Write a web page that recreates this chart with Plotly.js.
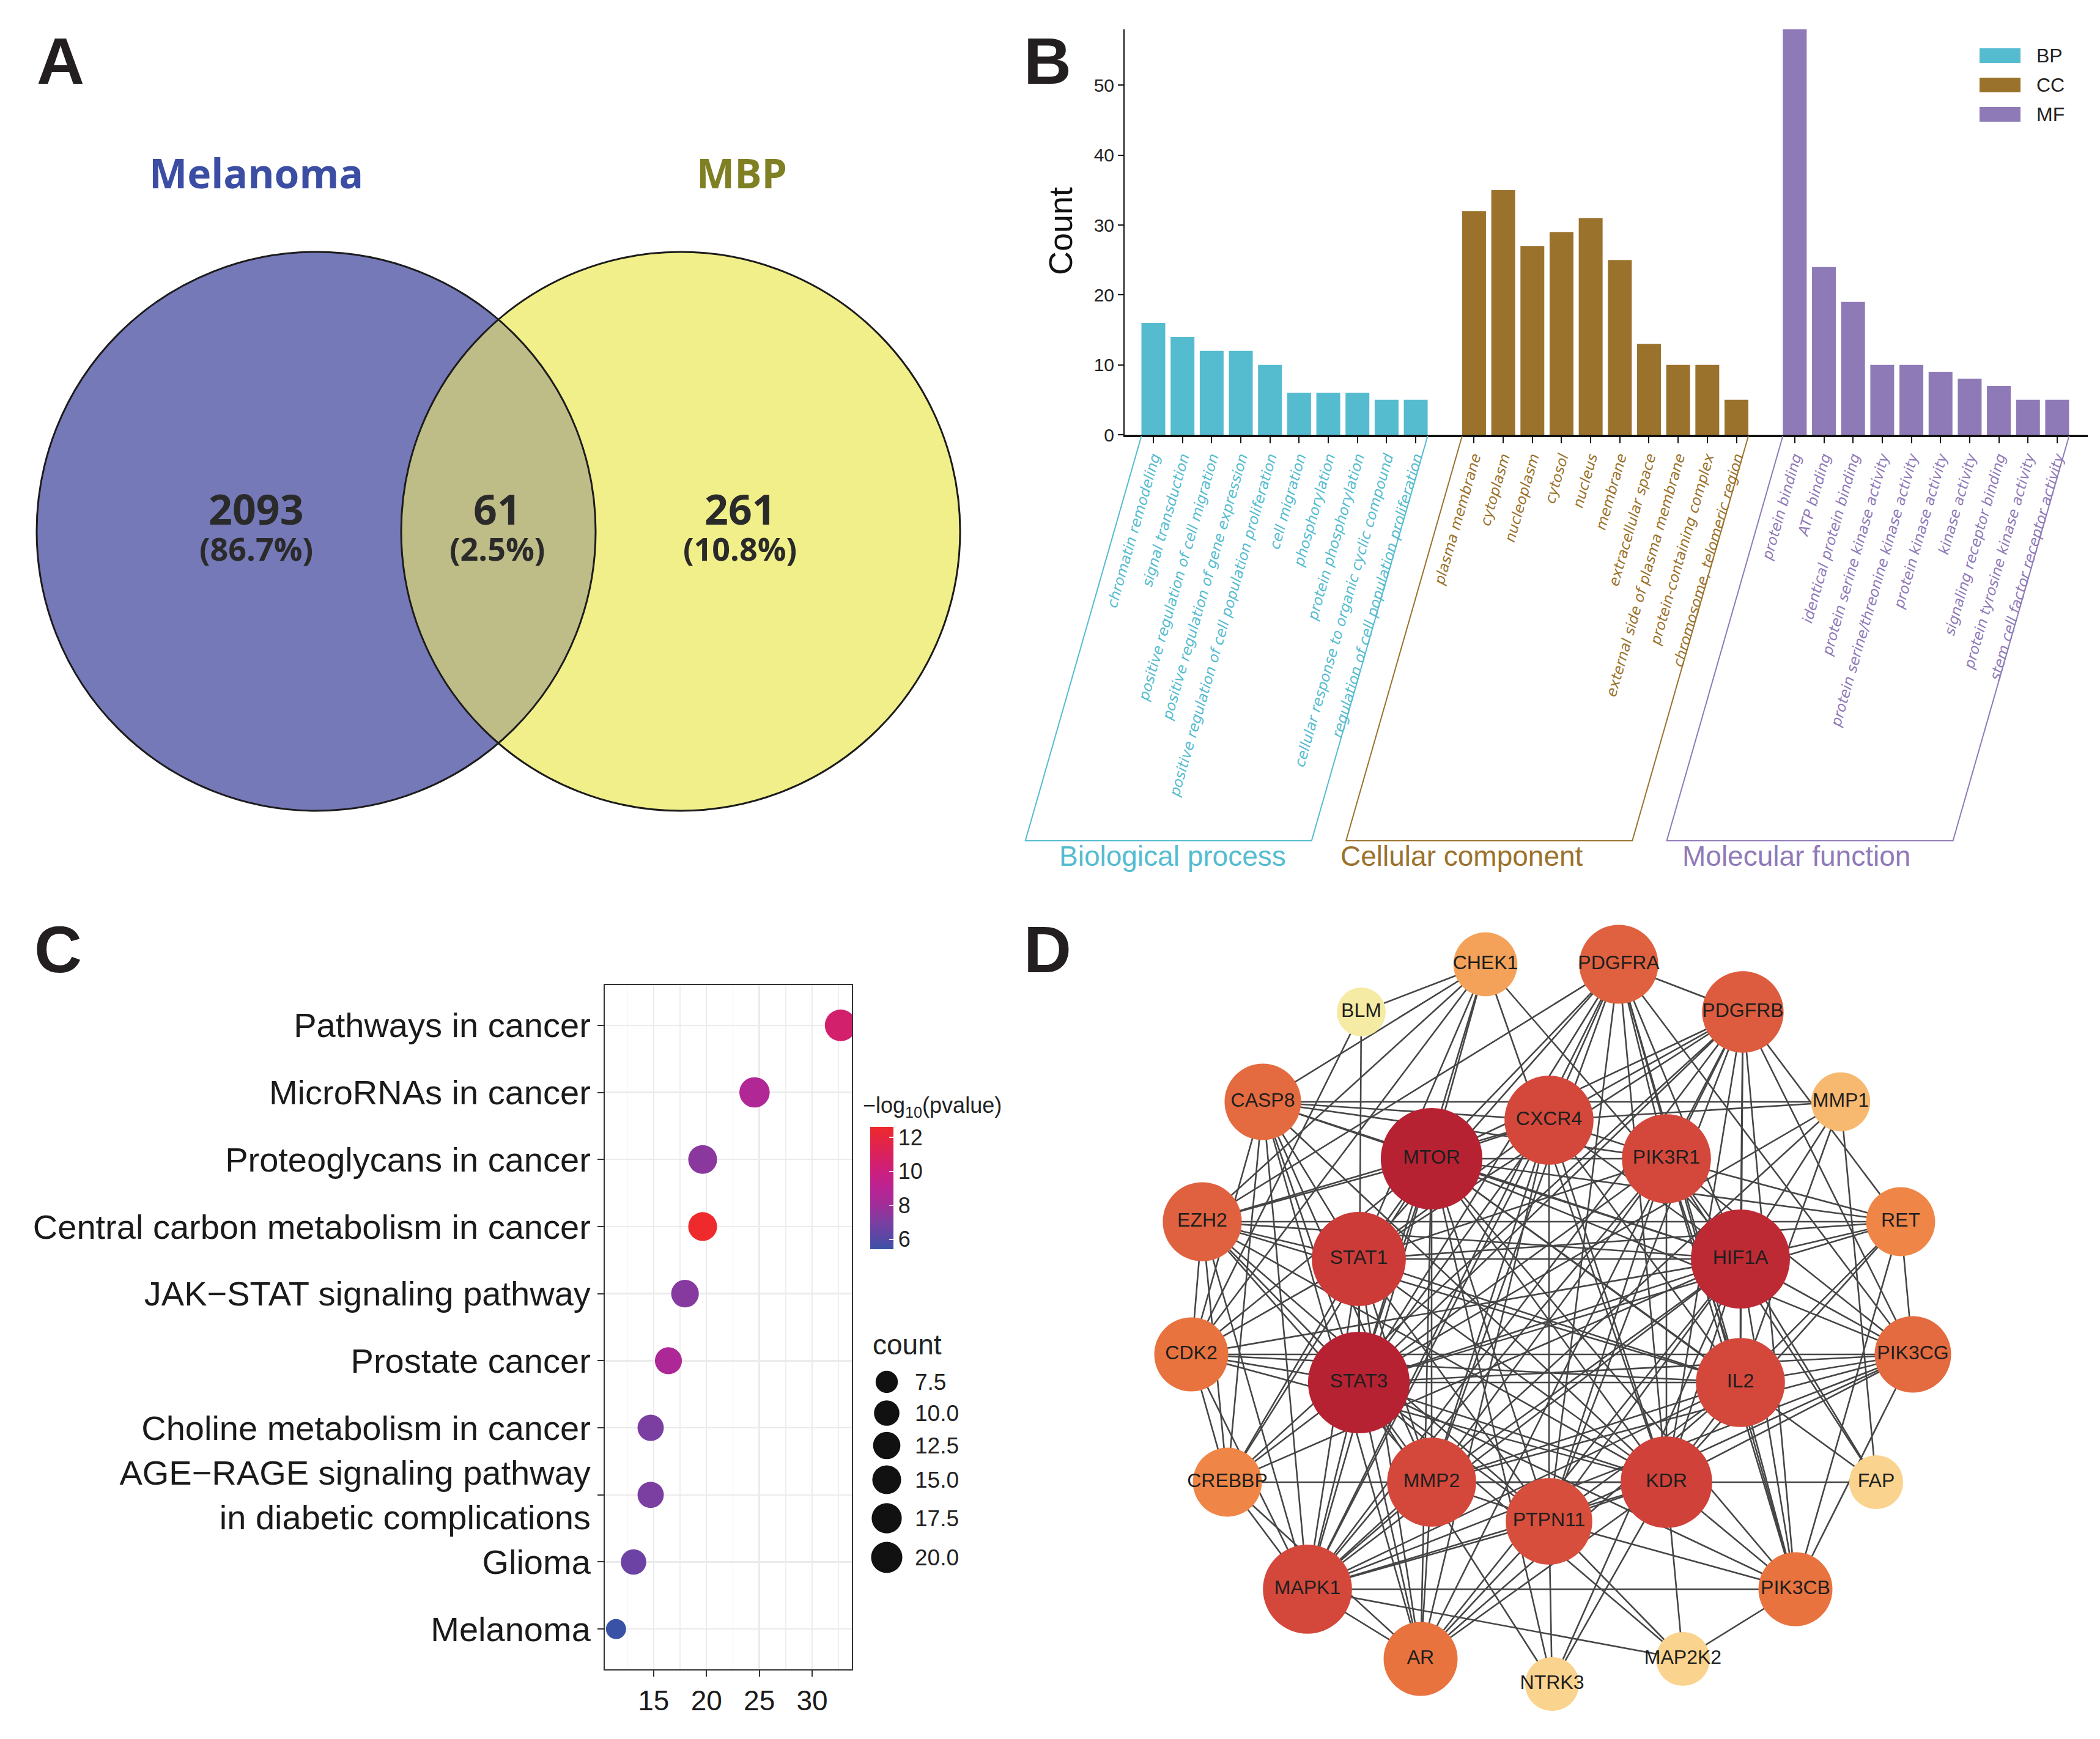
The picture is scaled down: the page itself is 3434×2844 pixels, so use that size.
<!DOCTYPE html>
<html><head><meta charset="utf-8">
<script src="https://cdn.plot.ly/plotly-3.0.1.min.js"></script>
<style>html,body{margin:0;padding:0;background:#fff}#chart{width:3434px;height:2844px}</style>
</head><body><div id="chart"></div>
<script>
const W = 3434, H = 2844;

// ---------------- Panel A data (Venn) ----------------
const vennSets = ['Melanoma', 'MBP'];
const vennCounts = [2093, 61, 261];
const vennPercents = ['86.7%', '2.5%', '10.8%'];

// ---------------- Panel B data (GO) ----------------
const bpTerms = ['chromatin remodeling', 'signal transduction', 'positive regulation of cell migration',
  'positive regulation of gene expression', 'positive regulation of cell population proliferation',
  'cell migration', 'phosphorylation', 'protein phosphorylation',
  'cellular response to organic cyclic compound', 'regulation of cell population proliferation'];
const bpCounts = [16, 14, 12, 12, 10, 6, 6, 6, 5, 5];
const ccTerms = ['plasma membrane', 'cytoplasm', 'nucleoplasm', 'cytosol', 'nucleus', 'membrane',
  'extracellular space', 'external side of plasma membrane', 'protein-containing complex',
  'chromosome, telomeric region'];
const ccCounts = [32, 35, 27, 29, 31, 25, 13, 10, 10, 5];
const mfTerms = ['protein binding', 'ATP binding', 'identical protein binding', 'protein serine kinase activity',
  'protein serine/threonine kinase activity', 'protein kinase activity', 'kinase activity',
  'signaling receptor binding', 'protein tyrosine kinase activity', 'stem cell factor receptor activity'];
const mfCounts = [58, 24, 19, 10, 10, 9, 8, 7, 5, 5];
const goGroups = ['BP', 'CC', 'MF'];
const goGroupNames = ['Biological process', 'Cellular component', 'Molecular function'];
const countTicks = [0, 10, 20, 30, 40, 50];

// ---------------- Panel C data (KEGG) ----------------
const keggTerms = ['Pathways in cancer', 'MicroRNAs in cancer', 'Proteoglycans in cancer',
  'Central carbon metabolism in cancer', 'JAK\u2212STAT signaling pathway', 'Prostate cancer',
  'Choline metabolism in cancer', 'AGE\u2212RAGE signaling pathway<br>in diabetic complications',
  'Glioma', 'Melanoma'];
const keggX = [32.7, 24.55, 19.64, 19.64, 17.97, 16.4, 14.72, 14.72, 13.1, 11.44];
const keggCount = [21, 18, 15, 15, 13, 12, 11, 11, 10, 7];
const keggLogP = [10.5, 8.6, 7.4, 12.62, 7.3, 8.5, 7.0, 7.0, 6.6, 5.42];
const keggXTicks = [15, 20, 25, 30];
const pTicks = [6, 8, 10, 12];
const countBreaks = [7.5, 10, 12.5, 15, 17.5, 20];
const countBreakLabels = ['7.5', '10.0', '12.5', '15.0', '17.5', '20.0'];

// ---------------- Panel D data (PPI network) ----------------
const genes = ['CHEK1','PDGFRA','BLM','PDGFRB','CASP8','MMP1','CXCR4','MTOR','PIK3R1','EZH2','RET','STAT1',
  'HIF1A','CDK2','PIK3CG','STAT3','IL2','CREBBP','MMP2','KDR','FAP','PTPN11','MAPK1','PIK3CB','AR','MAP2K2','NTRK3'];
const nodeDegree = [9,15,3,16,14,7,19,24,19,15,11,21,23,13,14,24,19,11,19,20,5,18,19,13,13,5,5];
// layout coordinates of the network nodes (pixels)
const nodeX = [2429,2647,2226,2850,2065,3010,2533,2341,2725,1966,3108,2222,2846,1948,3128,2222,2846,2007,2341,2725,3068,2533,2138,2936,2323,2752,2538];
const nodeY = [1577,1577,1655,1655,1802,1802,1832,1895,1895,1998,1998,2059,2059,2215,2215,2261,2261,2424,2424,2424,2424,2488,2599,2599,2713,2713,2754];
const edges = [
  ['BLM','CHEK1'],['BLM','CDK2'],['BLM','STAT3'],
  ['CHEK1','CASP8'],['CHEK1','EZH2'],['CHEK1','CDK2'],['CHEK1','MTOR'],['CHEK1','STAT1'],['CHEK1','STAT3'],['CHEK1','HIF1A'],['CHEK1','KDR'],
  ['PDGFRA','PDGFRB'],['PDGFRA','MTOR'],['PDGFRA','CXCR4'],['PDGFRA','PIK3R1'],['PDGFRA','HIF1A'],['PDGFRA','STAT1'],['PDGFRA','STAT3'],['PDGFRA','IL2'],['PDGFRA','KDR'],['PDGFRA','MMP2'],['PDGFRA','PTPN11'],['PDGFRA','MAPK1'],['PDGFRA','PIK3CB'],['PDGFRA','PIK3CG'],['PDGFRA','EZH2'],
  ['PDGFRB','MTOR'],['PDGFRB','CXCR4'],['PDGFRB','PIK3R1'],['PDGFRB','HIF1A'],['PDGFRB','STAT1'],['PDGFRB','STAT3'],['PDGFRB','IL2'],['PDGFRB','KDR'],['PDGFRB','PTPN11'],['PDGFRB','MAPK1'],['PDGFRB','PIK3CB'],['PDGFRB','PIK3CG'],['PDGFRB','RET'],['PDGFRB','CREBBP'],['PDGFRB','AR'],
  ['CASP8','MMP1'],['CASP8','CXCR4'],['CASP8','MTOR'],['CASP8','PIK3R1'],['CASP8','HIF1A'],['CASP8','STAT1'],['CASP8','STAT3'],['CASP8','CDK2'],['CASP8','CREBBP'],['CASP8','MAPK1'],['CASP8','AR'],['CASP8','MMP2'],['CASP8','KDR'],
  ['MMP1','CXCR4'],['MMP1','HIF1A'],['MMP1','STAT3'],['MMP1','IL2'],['MMP1','FAP'],['MMP1','MAPK1'],
  ['EZH2','MTOR'],['EZH2','CXCR4'],['EZH2','STAT1'],['EZH2','STAT3'],['EZH2','HIF1A'],['EZH2','RET'],['EZH2','IL2'],['EZH2','CDK2'],['EZH2','CREBBP'],['EZH2','MMP2'],['EZH2','KDR'],['EZH2','PTPN11'],['EZH2','MAPK1'],
  ['RET','MTOR'],['RET','PIK3R1'],['RET','STAT1'],['RET','HIF1A'],['RET','STAT3'],['RET','IL2'],['RET','KDR'],['RET','PIK3CB'],['RET','PIK3CG'],
  ['CDK2','MTOR'],['CDK2','STAT1'],['CDK2','STAT3'],['CDK2','HIF1A'],['CDK2','IL2'],['CDK2','CREBBP'],['CDK2','MAPK1'],['CDK2','KDR'],['CDK2','PIK3CG'],
  ['PIK3CG','MTOR'],['PIK3CG','PIK3R1'],['PIK3CG','HIF1A'],['PIK3CG','STAT3'],['PIK3CG','IL2'],['PIK3CG','KDR'],['PIK3CG','MMP2'],['PIK3CG','PTPN11'],['PIK3CG','MAPK1'],['PIK3CG','PIK3CB'],
  ['CREBBP','STAT1'],['CREBBP','STAT3'],['CREBBP','HIF1A'],['CREBBP','MTOR'],['CREBBP','MAPK1'],['CREBBP','AR'],['CREBBP','KDR'],
  ['FAP','KDR'],['FAP','HIF1A'],['FAP','PIK3R1'],['FAP','MTOR'],
  ['PIK3CB','MTOR'],['PIK3CB','PIK3R1'],['PIK3CB','HIF1A'],['PIK3CB','STAT3'],['PIK3CB','IL2'],['PIK3CB','KDR'],['PIK3CB','MAPK1'],['PIK3CB','PTPN11'],['PIK3CB','MAP2K2'],
  ['AR','MTOR'],['AR','STAT1'],['AR','STAT3'],['AR','HIF1A'],['AR','MMP2'],['AR','KDR'],['AR','PTPN11'],['AR','MAPK1'],['AR','IL2'],['AR','CXCR4'],
  ['MAP2K2','MAPK1'],['MAP2K2','KDR'],['MAP2K2','PTPN11'],['MAP2K2','STAT3'],
  ['NTRK3','PTPN11'],['NTRK3','KDR'],['NTRK3','HIF1A'],['NTRK3','STAT3'],['NTRK3','MTOR'],
  ['MTOR','STAT3'],['MTOR','HIF1A'],['MTOR','STAT1'],['MTOR','KDR'],['MTOR','CXCR4'],['MTOR','PIK3R1'],['MTOR','IL2'],['MTOR','MMP2'],['MTOR','PTPN11'],['MTOR','MAPK1'],
  ['STAT3','HIF1A'],['STAT3','STAT1'],['STAT3','KDR'],['STAT3','CXCR4'],['STAT3','PIK3R1'],['STAT3','IL2'],['STAT3','MMP2'],['STAT3','PTPN11'],['STAT3','MAPK1'],
  ['HIF1A','STAT1'],['HIF1A','KDR'],['HIF1A','CXCR4'],['HIF1A','PIK3R1'],['HIF1A','IL2'],['HIF1A','MMP2'],['HIF1A','PTPN11'],['HIF1A','MAPK1'],
  ['STAT1','KDR'],['STAT1','CXCR4'],['STAT1','PIK3R1'],['STAT1','IL2'],['STAT1','MMP2'],['STAT1','PTPN11'],['STAT1','MAPK1'],
  ['KDR','CXCR4'],['KDR','PIK3R1'],['KDR','IL2'],['KDR','MMP2'],['KDR','PTPN11'],['KDR','MAPK1'],
  ['CXCR4','PIK3R1'],['CXCR4','IL2'],['CXCR4','MMP2'],['CXCR4','PTPN11'],['CXCR4','MAPK1'],
  ['PIK3R1','IL2'],['PIK3R1','MMP2'],['PIK3R1','PTPN11'],['PIK3R1','MAPK1'],
  ['IL2','MMP2'],['IL2','PTPN11'],['IL2','MAPK1'],
  ['MMP2','PTPN11'],['MMP2','MAPK1'],
  ['PTPN11','MAPK1']
];

// ---------------- Styles / geometry ----------------
const FONT = 'Liberation Sans, Arial, sans-serif';
const goColors = ['#55bcd0', '#9b722c', '#8f7ab8'];
const vennFill = ['#7579b8', '#f1ef89', '#bfbd87'];
const vennTextColor = ['#3b4ea3', '#7f7f24'];
const vC = [[517, 869], [1113, 869]], vR = 457;

// panel B geometry
const bx0 = 1839, bx1 = 3414, bxr = [-0.986, 32.05], byTop = 48, byBot = 711;
const barW = 0.818;
// panel C geometry
const cx0 = 989, cx1 = 1393, cyTop = 1611, cyBot = 2730;

function bpx(i) { return bx0 + (i - bxr[0]) / (bxr[1] - bxr[0]) * (bx1 - bx0); }
function dotDiam(c) { return 32.8 + 19 * Math.sqrt(Math.max(0, (c - 7) / 14)); }
function nodeDiam(d) { return 80 + 4.1 * (d - 3); }

// indices for GO bars (one empty slot between groups)
const groupData = [[bpTerms, bpCounts], [ccTerms, ccCounts], [mfTerms, mfCounts]];
const traces = [];
const tickvals = [], ticktext = [];
const shapes = [], annotations = [];
let start = 0;
const bracketTop = 713, bracketBot = 1375;
const slantShift = (bracketBot - bracketTop) / Math.tan(74 * Math.PI / 180);
const groupLabelOffset = [7, -45, -22];
groupData.forEach((g, gi) => {
  const idx = g[0].map((_, k) => start + k);
  traces.push({
    type: 'bar', x: idx, y: g[1], width: barW, xaxis: 'x', yaxis: 'y',
    marker: {color: goColors[gi], line: {width: 0}}, name: goGroups[gi], showlegend: false, hoverinfo: 'x+y'
  });
  idx.forEach((v, k) => {
    tickvals.push(v);
    ticktext.push('<span style="color:' + goColors[gi] + '">' + g[0][k] + '</span>');
  });
  const tl = bpx(idx[0] - barW / 2), tr = bpx(idx[idx.length - 1] + barW / 2);
  const bl = tl - slantShift, br = tr - slantShift;
  shapes.push({type: 'path', xref: 'x3', yref: 'y3',
    path: `M${tl},${bracketTop}L${bl},${bracketBot}L${br},${bracketBot}L${tr},${bracketTop}`,
    line: {color: goColors[gi], width: 2}, fillcolor: 'rgba(0,0,0,0)'});
  annotations.push({xref: 'x3', yref: 'y3', x: (bl + br) / 2 + groupLabelOffset[gi], y: 1400,
    text: goGroupNames[gi], showarrow: false, xanchor: 'center', yanchor: 'middle',
    font: {family: FONT, size: 46, color: goColors[gi]}});
  start += g[0].length + 1;
});

// GO legend (manual)
const legY = [91, 139, 187];
goGroups.forEach((g, gi) => {
  shapes.push({type: 'rect', xref: 'x3', yref: 'y3', x0: 3237, x1: 3304, y0: legY[gi] - 12, y1: legY[gi] + 12,
    fillcolor: goColors[gi], line: {width: 0}});
  annotations.push({xref: 'x3', yref: 'y3', x: 3328, y: legY[gi], text: g, showarrow: false,
    xanchor: 'left', yanchor: 'middle', font: {family: FONT, size: 32, color: '#222'}});
});
annotations.push({xref: 'x3', yref: 'y3', x: 1734, y: 378, text: 'Count', textangle: -90, showarrow: false,
  xanchor: 'center', yanchor: 'middle', font: {family: FONT, size: 54, color: '#111'}});

// ---------------- Venn ----------------
function lensPath() {
  const d = vC[1][0] - vC[0][0], a = d / 2, h = Math.sqrt(vR * vR - a * a), al = Math.atan2(h, a);
  const pts = [];
  for (let k = 0; k <= 60; k++) { const t = -al + 2 * al * k / 60; pts.push([vC[0][0] + vR * Math.cos(t), vC[0][1] + vR * Math.sin(t)]); }
  for (let k = 0; k <= 60; k++) { const t = Math.PI - al + 2 * al * k / 60; pts.push([vC[1][0] + vR * Math.cos(t), vC[1][1] + vR * Math.sin(t)]); }
  return 'M' + pts.map(p => p[0].toFixed(1) + ',' + p[1].toFixed(1)).join('L') + 'Z';
}
const vennShapes = [];
vC.forEach((c, i) => vennShapes.push({type: 'circle', xref: 'x3', yref: 'y3', x0: c[0] - vR, x1: c[0] + vR,
  y0: c[1] - vR, y1: c[1] + vR, fillcolor: vennFill[i], line: {width: 0}}));
vennShapes.push({type: 'path', xref: 'x3', yref: 'y3', path: lensPath(), fillcolor: vennFill[2], line: {width: 0}});
vC.forEach(c => vennShapes.push({type: 'circle', xref: 'x3', yref: 'y3', x0: c[0] - vR, x1: c[0] + vR,
  y0: c[1] - vR, y1: c[1] + vR, fillcolor: 'rgba(0,0,0,0)', line: {color: '#1c1c1c', width: 3}}));

const vennLabelX = [419, 1213];
vennSets.forEach((s, i) => annotations.push({xref: 'x3', yref: 'y3', x: vennLabelX[i], y: 282, text: s,
  showarrow: false, xanchor: 'center', yanchor: 'middle',
  font: {family: 'Open Sans, sans-serif', size: 66, weight: 700, color: vennTextColor[i]}}));
const vennNumX = [419, 813, 1210];
vennCounts.forEach((v, i) => {
  annotations.push({xref: 'x3', yref: 'y3', x: vennNumX[i], y: 831, text: String(v), showarrow: false,
    xanchor: 'center', yanchor: 'middle', font: {family: 'Open Sans, sans-serif', size: 68, weight: 700, color: '#2a2a2a'}});
  annotations.push({xref: 'x3', yref: 'y3', x: vennNumX[i], y: 896, text: '(' + vennPercents[i] + ')', showarrow: false,
    xanchor: 'center', yanchor: 'middle', font: {family: 'Open Sans, sans-serif', size: 52, weight: 700, color: '#2a2a2a'}});
});

// ---------------- Panel C ----------------
const pColorscale = [[0, '#3a52a6'], [0.0806, '#5548a6'], [0.2194, '#7b3fa2'], [0.3583, '#a02e99'],
  [0.4972, '#ba2393'], [0.6361, '#cc1f7e'], [0.775, '#da215d'], [0.9139, '#e6263f'], [1, '#ee2a2c']];
traces.push({
  type: 'scatter', mode: 'markers', x: keggX, y: keggTerms.map((_, i) => i), xaxis: 'x2', yaxis: 'y2',
  marker: {size: keggCount.map(dotDiam), color: keggLogP, colorscale: pColorscale, cmin: 5.42, cmax: 12.62,
    line: {width: 0}, opacity: 1,
    colorbar: {x: 1423 / W, xanchor: 'left', xpad: 0, ypad: 0, y: 1 - 1943 / H, yanchor: 'middle',
      len: 200, lenmode: 'pixels', thickness: 38, thicknessmode: 'pixels', outlinewidth: 0,
      tickvals: pTicks, ticks: 'inside', ticklen: 7, tickcolor: 'rgba(255,255,255,0.85)', tickwidth: 1.5,
      tickfont: {family: FONT, size: 36, color: '#222'}}},
  showlegend: false, cliponaxis: true
});
annotations.push({xref: 'x3', yref: 'y3', x: 1409, y: 1810, text: '\u2212log<sub>10</sub>(pvalue)', showarrow: false,
  xanchor: 'left', yanchor: 'middle', font: {family: FONT, size: 36, color: '#222'}});
// size legend
const sizeLegY = [2260, 2311, 2364, 2420, 2483, 2547];
traces.push({type: 'scatter', mode: 'markers', x: countBreaks.map(() => 1450), y: sizeLegY, xaxis: 'x3', yaxis: 'y3',
  marker: {size: countBreaks.map(dotDiam), color: '#111111', opacity: 1, line: {width: 0}}, showlegend: false, hoverinfo: 'skip'});
countBreakLabels.forEach((t, i) => annotations.push({xref: 'x3', yref: 'y3', x: 1494, y: sizeLegY[i], text: t,
  showarrow: false, xanchor: 'left', yanchor: 'middle', font: {family: FONT, size: 37, color: '#222'}}));
annotations.push({xref: 'x3', yref: 'y3', x: 1425, y: 2199, text: 'count', showarrow: false, xanchor: 'left',
  yanchor: 'middle', font: {family: FONT, size: 46, color: '#222'}});

// ---------------- Panel D ----------------
const pos = {};
genes.forEach((g, i) => pos[g] = [nodeX[i], nodeY[i]]);
const ex = [], ey = [];
edges.forEach(e => { ex.push(pos[e[0]][0], pos[e[1]][0], null); ey.push(pos[e[0]][1], pos[e[1]][1], null); });
traces.push({type: 'scatter', mode: 'lines', x: ex, y: ey, xaxis: 'x3', yaxis: 'y3',
  line: {color: '#454545', width: 2.6}, hoverinfo: 'skip', showlegend: false});
const degScale = [[0, '#f6eba4'], [0.095, '#fad38e'], [0.19, '#f7b870'], [0.286, '#f4a259'], [0.381, '#ef8647'],
  [0.476, '#e8733f'], [0.571, '#e0613f'], [0.762, '#d4483b'], [0.857, '#cd3b38'], [1, '#b62232']];
traces.push({type: 'scatter', mode: 'markers+text', x: nodeX, y: nodeY, text: genes, xaxis: 'x3', yaxis: 'y3',
  textposition: 'middle center', textfont: {family: FONT, size: 32, color: '#1e1e1e'},
  marker: {size: nodeDegree.map(nodeDiam), color: nodeDegree, colorscale: degScale, cmin: 3, cmax: 24,
    showscale: false, line: {width: 0}, opacity: 1}, showlegend: false, cliponaxis: false});

// panel letters
[['A', 99, 99], ['B', 1713, 99], ['C', 95, 1552], ['D', 1713, 1552]].forEach(l => annotations.push({
  xref: 'x3', yref: 'y3', x: l[1], y: l[2], text: l[0], showarrow: false, xanchor: 'center', yanchor: 'middle',
  font: {family: FONT, size: 108, weight: 700, color: '#231f20'}}));

const layout = {
  width: W, height: H, margin: {l: 0, r: 0, t: 0, b: 0}, paper_bgcolor: '#fff', plot_bgcolor: 'rgba(0,0,0,0)',
  showlegend: false, font: {family: FONT, color: '#222'},
  xaxis: {domain: [bx0 / W, bx1 / W], anchor: 'y', range: bxr, tickmode: 'array', tickvals: tickvals, ticktext: ticktext,
    tickangle: -74, tickfont: {family: 'DejaVu Sans, sans-serif', size: 23.5, style: 'italic'},
    ticks: 'outside', ticklen: 10, tickwidth: 2, tickcolor: '#111', showline: true, linecolor: '#111', linewidth: 4,
    showgrid: false, zeroline: false, fixedrange: true},
  yaxis: {domain: [1 - byBot / H, 1 - byTop / H], anchor: 'x', range: [0, 58], tickmode: 'array', tickvals: countTicks,
    ticks: 'outside', ticklen: 9, tickwidth: 2, tickcolor: '#111', showline: true, linecolor: '#111', linewidth: 2,
    tickfont: {family: FONT, size: 30, color: '#222'}, showgrid: false, zeroline: false, fixedrange: true},
  xaxis2: {domain: [cx0 / W, cx1 / W], anchor: 'y2', range: [10.38, 33.76], tickmode: 'array', tickvals: keggXTicks,
    ticks: 'outside', ticklen: 10, tickwidth: 2, tickcolor: '#333', showline: true, mirror: true, linecolor: '#333',
    linewidth: 2, showgrid: true, gridcolor: '#ebebeb', gridwidth: 2.5, zeroline: false,
    minor: {tickmode: 'array', tickvals: [12.5, 17.5, 22.5, 27.5, 32.5], showgrid: true, gridcolor: '#efefef', gridwidth: 1.6, ticks: ''},
    tickfont: {family: FONT, size: 46, color: '#1a1a1a'}, fixedrange: true},
  yaxis2: {domain: [1 - cyBot / H, 1 - cyTop / H], anchor: 'x2', range: [9.6, -0.6], tickmode: 'array',
    tickvals: keggTerms.map((_, i) => i), ticktext: keggTerms, ticks: 'outside', ticklen: 10, tickwidth: 2,
    tickcolor: '#333', showline: true, mirror: true, linecolor: '#333', linewidth: 2, showgrid: true,
    gridcolor: '#ebebeb', gridwidth: 2.5, zeroline: false, tickfont: {family: FONT, size: 56, color: '#1a1a1a'},
    fixedrange: true},
  xaxis3: {domain: [0, 1], anchor: 'y3', range: [0, W], visible: false, fixedrange: true},
  yaxis3: {domain: [0, 1], anchor: 'x3', range: [H, 0], visible: false, fixedrange: true},
  shapes: vennShapes.concat(shapes),
  annotations: annotations
};
Plotly.newPlot('chart', traces, layout, {displayModeBar: false, staticPlot: true});
</script>
</body></html>
